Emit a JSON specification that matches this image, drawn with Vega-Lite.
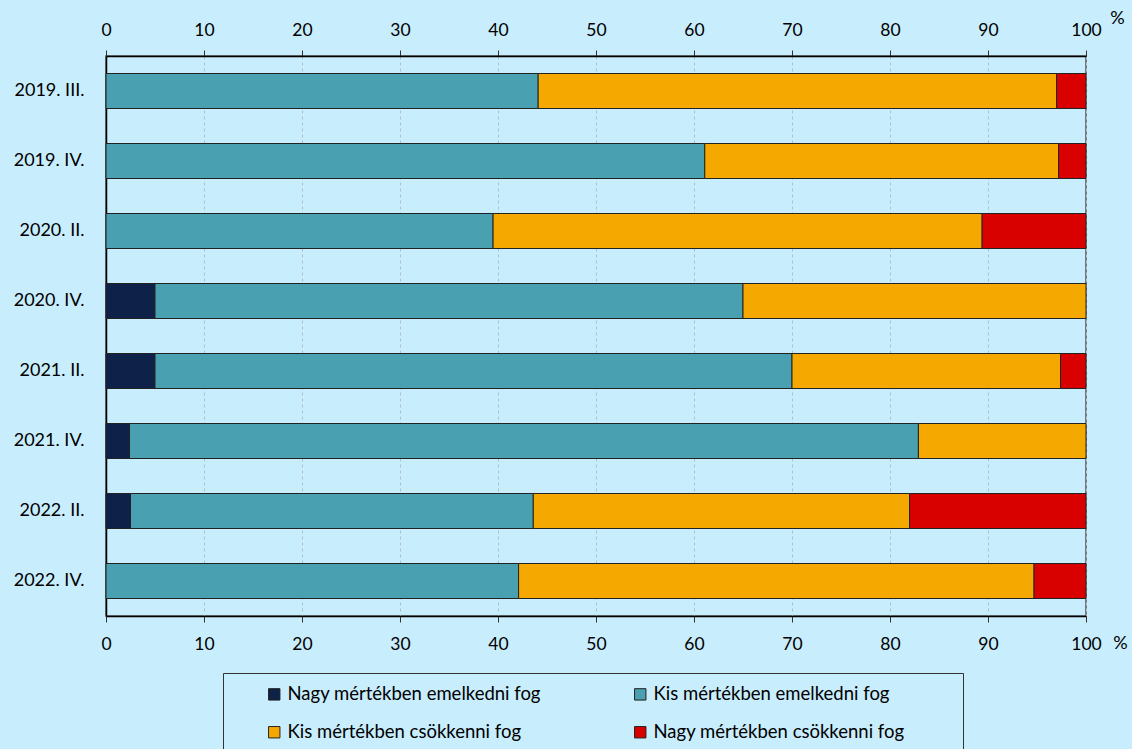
{
  "$schema": "https://vega.github.io/schema/vega-lite/v6.json",
  "width": 980,
  "height": 560,
  "autosize": {"type": "none"},
  "padding": {"left": 106, "top": 56, "right": 46, "bottom": 133},
  "background": "#c8edfd",
  "config": {
    "view": {"stroke": "#555555", "strokeWidth": 1.5},
    "font": "Lato"
  },
  "data": {
    "values": [
      {"period": "2019. III.", "cat": "Kis mértékben emelkedni fog", "ord": 2, "value": 44.1},
      {"period": "2019. III.", "cat": "Kis mértékben csökkenni fog", "ord": 3, "value": 52.9},
      {"period": "2019. III.", "cat": "Nagy mértékben csökkenni fog", "ord": 4, "value": 3.0},
      {"period": "2019. IV.", "cat": "Kis mértékben emelkedni fog", "ord": 2, "value": 61.1},
      {"period": "2019. IV.", "cat": "Kis mértékben csökkenni fog", "ord": 3, "value": 36.1},
      {"period": "2019. IV.", "cat": "Nagy mértékben csökkenni fog", "ord": 4, "value": 2.8},
      {"period": "2020. II.", "cat": "Kis mértékben emelkedni fog", "ord": 2, "value": 39.5},
      {"period": "2020. II.", "cat": "Kis mértékben csökkenni fog", "ord": 3, "value": 49.9},
      {"period": "2020. II.", "cat": "Nagy mértékben csökkenni fog", "ord": 4, "value": 10.6},
      {"period": "2020. IV.", "cat": "Nagy mértékben emelkedni fog", "ord": 1, "value": 5.0},
      {"period": "2020. IV.", "cat": "Kis mértékben emelkedni fog", "ord": 2, "value": 60.0},
      {"period": "2020. IV.", "cat": "Kis mértékben csökkenni fog", "ord": 3, "value": 35.0},
      {"period": "2021. II.", "cat": "Nagy mértékben emelkedni fog", "ord": 1, "value": 5.0},
      {"period": "2021. II.", "cat": "Kis mértékben emelkedni fog", "ord": 2, "value": 65.0},
      {"period": "2021. II.", "cat": "Kis mértékben csökkenni fog", "ord": 3, "value": 27.4},
      {"period": "2021. II.", "cat": "Nagy mértékben csökkenni fog", "ord": 4, "value": 2.6},
      {"period": "2021. IV.", "cat": "Nagy mértékben emelkedni fog", "ord": 1, "value": 2.4},
      {"period": "2021. IV.", "cat": "Kis mértékben emelkedni fog", "ord": 2, "value": 80.5},
      {"period": "2021. IV.", "cat": "Kis mértékben csökkenni fog", "ord": 3, "value": 17.1},
      {"period": "2022. II.", "cat": "Nagy mértékben emelkedni fog", "ord": 1, "value": 2.5},
      {"period": "2022. II.", "cat": "Kis mértékben emelkedni fog", "ord": 2, "value": 41.1},
      {"period": "2022. II.", "cat": "Kis mértékben csökkenni fog", "ord": 3, "value": 38.4},
      {"period": "2022. II.", "cat": "Nagy mértékben csökkenni fog", "ord": 4, "value": 18.0},
      {"period": "2022. IV.", "cat": "Kis mértékben emelkedni fog", "ord": 2, "value": 42.1},
      {"period": "2022. IV.", "cat": "Kis mértékben csökkenni fog", "ord": 3, "value": 52.6},
      {"period": "2022. IV.", "cat": "Nagy mértékben csökkenni fog", "ord": 4, "value": 5.3}
    ]
  },
  "layer": [
    {
      "mark": {"type": "bar", "stroke": "#222222", "strokeWidth": 1},
      "encoding": {
        "y": {
          "field": "period",
          "type": "nominal",
          "sort": null,
          "title": null,
          "scale": {"paddingInner": 0.5, "paddingOuter": 0.25},
          "axis": {
            "ticks": false,
            "domainColor": "#000000",
            "domainWidth": 1.5,
            "labelFont": "Lato",
            "labelFontSize": 18,
            "labelColor": "#000000",
            "labelPadding": 22
          }
        },
        "x": {
          "field": "value",
          "type": "quantitative",
          "stack": "zero",
          "scale": {"domain": [0, 100], "nice": false},
          "axis": {
            "orient": "top",
            "values": [0, 10, 20, 30, 40, 50, 60, 70, 80, 90, 100],
            "grid": true,
            "gridColor": "#b3c0c6",
            "gridDash": [3, 3],
            "gridWidth": 1,
            "domainColor": "#000000",
            "domainWidth": 1.5,
            "tickColor": "#333333",
            "tickSize": 6,
            "labelFont": "Lato",
            "labelFontSize": 17.5,
            "labelColor": "#000000",
            "labelPadding": 11,
            "labelFlush": false,
            "title": "%",
            "titleFont": "Lato",
            "titleFontSize": 18,
            "titleFontWeight": "normal",
            "titleColor": "#000000",
            "titleAngle": 0,
            "titleAlign": "center",
            "titleBaseline": "middle",
            "titleX": 1011,
            "titleY": -38
          }
        },
        "color": {
          "field": "cat",
          "type": "nominal",
          "scale": {
            "domain": ["Nagy mértékben emelkedni fog", "Kis mértékben emelkedni fog", "Kis mértékben csökkenni fog", "Nagy mértékben csökkenni fog"],
            "range": ["#0e2148", "#48a0b0", "#f5a800", "#d90000"]
          },
          "legend": {
            "orient": "none",
            "legendX": 117,
            "legendY": 617,
            "direction": "horizontal",
            "columns": 2,
            "title": "\u00a0",
            "titleOrient": "right",
            "titlePadding": 46,
            "titleFontSize": 10,
            "strokeColor": "#333333",
            "padding": 12,
            "symbolType": "square",
            "symbolSize": 130,
            "symbolStrokeColor": "#222222",
            "symbolStrokeWidth": 1,
            "symbolOpacity": 1,
            "symbolOffset": 30,
            "labelFont": "Lato",
            "labelFontSize": 18.5,
            "labelColor": "#000000",
            "labelOffset": 4,
            "labelLimit": 400,
            "columnPadding": 60,
            "rowPadding": 19
          }
        },
        "order": {"field": "ord", "type": "quantitative"}
      }
    },
    {
      "mark": {"type": "rule", "opacity": 0},
      "encoding": {
        "x": {
          "datum": 0,
          "type": "quantitative",
          "axis": {
            "orient": "bottom",
            "values": [0, 10, 20, 30, 40, 50, 60, 70, 80, 90, 100],
            "grid": false,
            "domainColor": "#000000",
            "domainWidth": 1.5,
            "tickColor": "#333333",
            "tickSize": 6,
            "labelFont": "Lato",
            "labelFontSize": 17.5,
            "labelColor": "#000000",
            "labelPadding": 13,
            "labelFlush": false,
            "title": "%",
            "titleFont": "Lato",
            "titleFontSize": 18,
            "titleFontWeight": "normal",
            "titleColor": "#000000",
            "titleAngle": 0,
            "titleAlign": "center",
            "titleBaseline": "middle",
            "titleX": 1014,
            "titleY": 27
          }
        }
      }
    }
  ],
  "resolve": {"axis": {"x": "independent"}}
}
